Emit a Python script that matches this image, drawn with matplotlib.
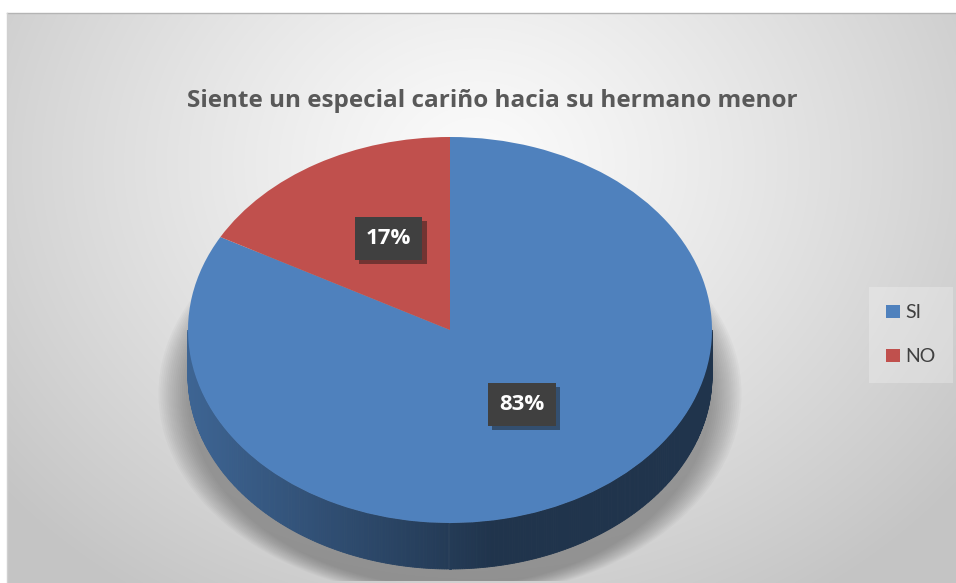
#!/usr/bin/env python3

import numpy as np
import matplotlib
matplotlib.use('Agg')
import matplotlib.pyplot as plt
import matplotlib.patheffects as pe
from matplotlib.patches import Polygon, Ellipse
from matplotlib.colors import to_rgb

# Data
categories = ['SI', 'NO']
values = [83, 17]
colors = ['#4f81bd', '#c0504d']
title = 'Siente un especial cariño hacia su hermano menor'

W, H = 956, 583
plt.rcParams['font.family'] = ['Lato', 'DejaVu Sans']

fig = plt.figure(figsize=(W / 100, H / 100), dpi=100)

# background: radial gradient over the chart area
bg = fig.add_axes([7 / W, 0, (W - 7) / W, (H - 13) / H])
gy, gx = np.mgrid[0:H - 13, 0:W - 7]
d = np.sqrt(((gx - 470) / 620.0) ** 2 + ((gy - 150) / 520.0) ** 2)
d = np.clip(d, 0, 1) ** 1.2
c0, c1 = np.array(to_rgb('#fbfbfb')), np.array(to_rgb('#c4c4c4'))
img = c0[None, None, :] * (1 - d[..., None]) + c1[None, None, :] * d[..., None]
bg.imshow(img, aspect='auto', interpolation='bilinear')
bg.axis('off')

# thin frame at top and left
fig.add_artist(plt.Line2D([7 / W, 1], [1 - 13 / H, 1 - 13 / H], transform=fig.transFigure,
                          color='#b4b4b4', lw=1))
fig.add_artist(plt.Line2D([7 / W, 7 / W], [0, 1 - 13 / H], transform=fig.transFigure,
                          color='#d0d0d0', lw=1))

# pie axes: center (450, 330) px, semi-axes 262 x 193 px
cx, cy, a, b = 450, 330, 262, 193
xl, yl_lo, yl_hi = 1.2, -1.3, 1.2
left = (cx - xl * a) / W
bottom = 1 - (cy - yl_lo * b) / H
ax = fig.add_axes([left, bottom, 2 * xl * a / W, (yl_hi - yl_lo) * b / H])

depth = 46 / b

# soft shadow under the pie
for k in range(16):
    ax.add_patch(Ellipse((0, -0.33), 2 * (1.0 + 0.0075 * k), 2 * (1.0 + 0.004 * k),
                         facecolor='#555555', edgecolor='none', alpha=0.038, zorder=0))

wedges, texts, autotexts = ax.pie(values, colors=colors, startangle=90, counterclock=False,
                                  autopct='%1.0f%%', pctdistance=0.5,
                                  wedgeprops=dict(linewidth=0, zorder=3),
                                  textprops=dict(color='white', fontsize=16, fontweight='bold',
                                                 family=['Open Sans', 'DejaVu Sans']))
ax.set_aspect('auto')
ax.set_xlim(-xl, xl)
ax.set_ylim(yl_lo, yl_hi)
ax.axis('off')

# side of the cylinder, front half only
for w, col in zip(wedges, colors):
    base = np.array(to_rgb(col))
    light = base * 0.78
    dark = base * 0.40
    lo_t, hi_t = min(w.theta1, w.theta2), max(w.theta1, w.theta2)
    for off in (-360, 0, 360):
        s0, s1 = max(lo_t + off, 180), min(hi_t + off, 360)
        if s1 <= s0:
            continue
        ts = np.linspace(s0, s1, int(s1 - s0) * 2 + 2)
        for ta, tb in zip(ts[:-1], ts[1:]):
            tr = np.radians([ta, tb])
            xs, ys = np.cos(tr), np.sin(tr)
            poly = [(xs[0], ys[0]), (xs[1], ys[1]), (xs[1], ys[1] - depth), (xs[0], ys[0] - depth)]
            f = min(1.0, (np.cos(np.radians((ta + tb) / 2)) + 1) / 2 * 1.7)
            c = light * (1 - f) + dark * f
            ax.add_patch(Polygon(poly, closed=True, facecolor=c, edgecolor=c, lw=0.6, zorder=2))

for t in autotexts:
    x, y = t.get_position()
    t.set_position((x + 0.02, y + 0.045))
    t.set_bbox(dict(boxstyle='square,pad=0.5', facecolor='#404040', edgecolor='none'))
    t.get_bbox_patch().set_path_effects([pe.withSimplePatchShadow(offset=(3, -3), alpha=0.45)])
    t.set_zorder(5)

fig.text(492 / W, 1 - 101 / H, title, ha='center', va='center', fontsize=17.5,
         fontweight='bold', color='#595959', family=['Open Sans', 'DejaVu Sans'])

leg = fig.legend(wedges, categories, loc='upper left', bbox_to_anchor=(859 / W, 1 - 277 / H),
                 frameon=True, fontsize=14, handlelength=0.7, handleheight=0.7,
                 handletextpad=0.3, labelspacing=1.4, borderpad=0.9, fancybox=False)
leg.get_frame().set_facecolor('white')
leg.get_frame().set_alpha(0.25)
leg.get_frame().set_edgecolor('none')
for txt in leg.get_texts():
    txt.set_color('#404040')

fig.savefig('out.png', dpi=100)
